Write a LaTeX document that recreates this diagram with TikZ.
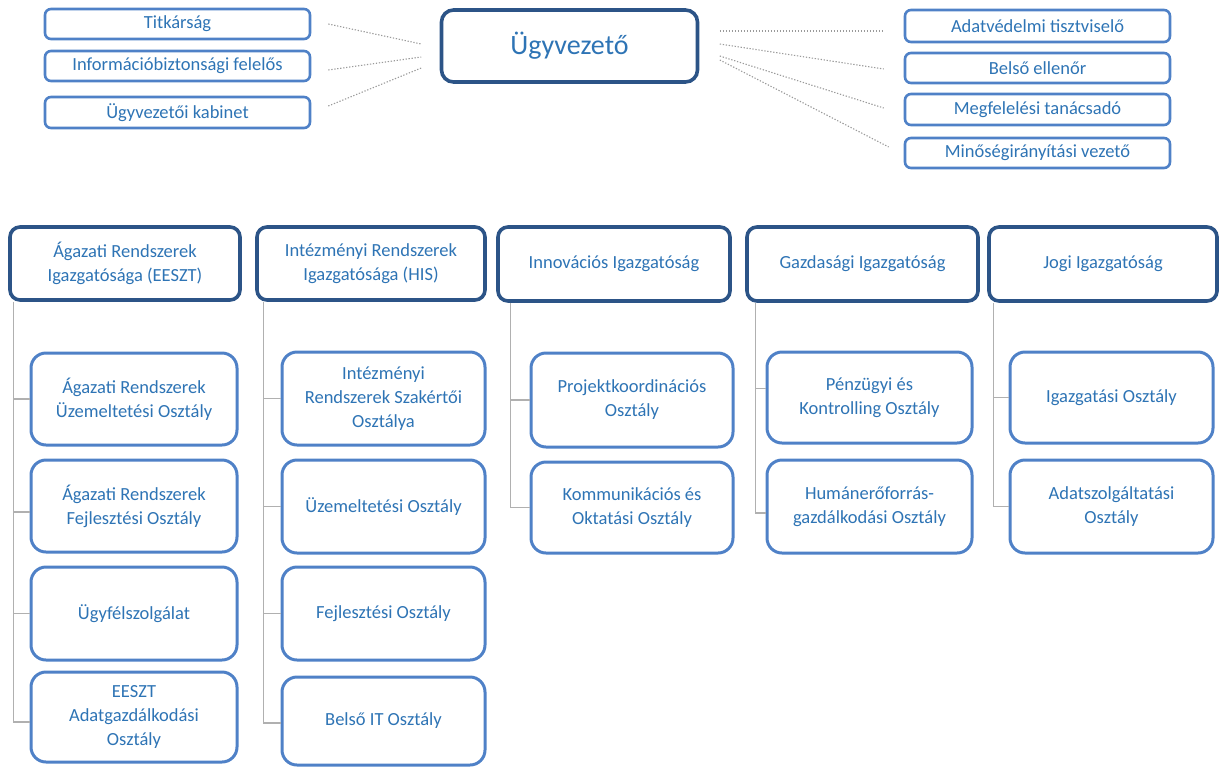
\documentclass[tikz,border=0pt]{standalone}
\usepackage{fontspec}
\setmainfont{Carlito}
\definecolor{txtblue}{HTML}{2E74B5}
\definecolor{headline}{HTML}{2C5487}
\definecolor{subline}{HTML}{4F81C7}
\definecolor{connline}{HTML}{B0B0B0}
\definecolor{dotline}{HTML}{9A9A9A}
\tikzset{
  basebox/.style={rectangle, fill=white, text=txtblue, align=center, inner sep=2pt,
    font=\fontsize{18.5}{24}\selectfont},
  smallbox/.style={basebox, draw=subline, line width=2.6pt, rounded corners=6pt},
  bossbox/.style={basebox, draw=headline, line width=3.6pt, rounded corners=12pt,
    font=\fontsize{28}{34}\selectfont},
  headbox/.style={basebox, draw=headline, line width=3.6pt, rounded corners=10pt},
  subbox/.style={basebox, draw=subline, line width=3pt, rounded corners=15pt},
  dotconn/.style={draw=dotline, line width=1.1pt, dash pattern=on 1.3pt off 1.7pt},
  treeconn/.style={draw=connline, line width=1.2pt},
}
\begin{document}
\begin{tikzpicture}[x=1pt,y=-1pt]
\useasboundingbox (0,0) rectangle (1220,769);

% top row
\node[smallbox, minimum width=265, minimum height=30] (tit) at (177.5,24) {Titkárság};
\node[smallbox, minimum width=265, minimum height=30] (info) at (177.5,66) {Információbiztonsági felelős};
\node[smallbox, minimum width=265, minimum height=31] (kab) at (177.5,112.5) {Ügyvezetői kabinet};

\node[bossbox, minimum width=256, minimum height=72] (ugy) at (569.5,46) {Ügyvezető};

\node[smallbox, minimum width=265, minimum height=32] (adat) at (1037.5,26) {Adatvédelmi tisztviselő};
\node[smallbox, minimum width=265, minimum height=30] (bels) at (1037.5,68) {Belső ellenőr};
\node[smallbox, minimum width=265, minimum height=31] (megf) at (1037.5,109.5) {Megfelelési tanácsadó};
\node[smallbox, minimum width=265, minimum height=30] (mino) at (1037.5,153) {Minőségirányítási vezető};

% dotted connectors
\draw[dotconn] ([shift={(17,0)}]tit.east) -- ([shift={(-18.5,-2)}]ugy.west);
\draw[dotconn] ([shift={(17,4)}]info.east) -- ([shift={(-18.5,11)}]ugy.west);
\draw[dotconn] ([shift={(17,-6.5)}]kab.east) -- ([shift={(-18.5,22)}]ugy.west);
\draw[dotconn] ([shift={(20.5,-15)}]ugy.east) -- ([shift={(-20,5)}]adat.west);
\draw[dotconn] ([shift={(20.5,-2)}]ugy.east) -- ([shift={(-20,1)}]bels.west);
\draw[dotconn] ([shift={(20.5,10)}]ugy.east) -- ([shift={(-20,-1.5)}]megf.west);
\draw[dotconn] ([shift={(20.5,14)}]ugy.east) -- ([shift={(-15,-6)}]mino.west);

% directorates
\node[headbox, minimum width=230, minimum height=73] (h1) at (125,263.5) {Ágazati Rendszerek\\Igazgatósága (EESZT)};
\node[headbox, minimum width=228, minimum height=73] (h2) at (371,263.5) {Intézményi Rendszerek\\Igazgatósága (HIS)};
\node[headbox, minimum width=232, minimum height=74] (h3) at (614,264) {Innovációs Igazgatóság};
\node[headbox, minimum width=231, minimum height=74] (h4) at (862.5,264) {Gazdasági Igazgatóság};
\node[headbox, minimum width=228, minimum height=74] (h5) at (1103,264) {Jogi Igazgatóság};

% column 1
\node[subbox, minimum width=206, minimum height=92] (s1a) at (134,399) {Ágazati Rendszerek\\Üzemeltetési Osztály};
\node[subbox, minimum width=206, minimum height=92] (s1b) at (134,506) {Ágazati Rendszerek\\Fejlesztési Osztály};
\node[subbox, minimum width=206, minimum height=93] (s1c) at (134,613.5) {Ügyfélszolgálat};
\node[subbox, minimum width=206, minimum height=90] (s1d) at (134,717) {EESZT\\Adatgazdálkodási\\Osztály};

% column 2
\node[subbox, minimum width=203, minimum height=93] (s2a) at (383.5,398.5) {Intézményi\\Rendszerek Szakértői\\Osztálya};
\node[subbox, minimum width=203, minimum height=93] (s2b) at (383.5,506.5) {Üzemeltetési Osztály};
\node[subbox, minimum width=203, minimum height=93] (s2c) at (383.5,613.5) {Fejlesztési Osztály};
\node[subbox, minimum width=203, minimum height=88] (s2d) at (383.5,721) {Belső IT Osztály};

% column 3
\node[subbox, minimum width=202, minimum height=94] (s3a) at (632,400) {Projektkoordinációs\\Osztály};
\node[subbox, minimum width=202, minimum height=91] (s3b) at (632,507.5) {Kommunikációs és\\Oktatási Osztály};

% column 4
\node[subbox, minimum width=205, minimum height=91] (s4a) at (869.5,397.5) {Pénzügyi és\\Kontrolling Osztály};
\node[subbox, minimum width=205, minimum height=93] (s4b) at (869.5,506.5) {Humánerőforrás-\\gazdálkodási Osztály};

% column 5
\node[subbox, minimum width=203, minimum height=91] (s5a) at (1111.5,397.5) {Igazgatási Osztály};
\node[subbox, minimum width=203, minimum height=93] (s5b) at (1111.5,506.5) {Adatszolgáltatási\\Osztály};

% tree connectors
\draw[treeconn] ([xshift=5pt]h1.south west) |- (s1a.west);
\draw[treeconn] ([xshift=5pt]h1.south west) |- ([yshift=-6pt]s1b.west);
\draw[treeconn] ([xshift=5pt]h1.south west) |- (s1c.west);
\draw[treeconn] ([xshift=5pt]h1.south west) |- ([yshift=-5pt]s1d.west);

\draw[treeconn] ([xshift=8pt]h2.south west) |- (s2a.west);
\draw[treeconn] ([xshift=8pt]h2.south west) |- (s2b.west);
\draw[treeconn] ([xshift=8pt]h2.south west) |- (s2c.west);
\draw[treeconn] ([xshift=8pt]h2.south west) |- ([yshift=-2pt]s2d.west);

\draw[treeconn] ([xshift=14pt]h3.south west) |- (s3a.west);
\draw[treeconn] ([xshift=14pt]h3.south west) |- (s3b.west);

\draw[treeconn] ([xshift=10pt]h4.south west) |- ([yshift=9pt]s4a.west);
\draw[treeconn] ([xshift=10pt]h4.south west) |- ([yshift=-6.5pt]s4b.west);

\draw[treeconn] ([xshift=6pt]h5.south west) |- (s5a.west);
\draw[treeconn] ([xshift=6pt]h5.south west) |- (s5b.west);
\end{tikzpicture}
\end{document}
